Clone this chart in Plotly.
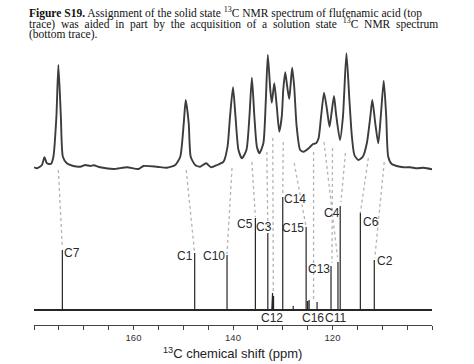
import plotly.graph_objects as go

# ---------------- data ----------------
# solid-state 13C CP/MAS trace (top): chemical shift (ppm) and relative intensity
solid_ppm = [180.0, 179.4, 178.4, 177.9, 177.4, 176.6, 176.1, 175.5, 175.1, 174.6, 174.2, 173.4,
             172.1, 170.7, 169.7, 168.7, 168.0, 166.7, 164.0, 161.3, 159.0, 158.0, 155.3, 153.3,
             151.6, 150.6, 149.9, 149.5, 148.9, 148.5, 147.6, 146.6, 145.4, 144.4, 143.2, 141.9,
             141.1, 140.6, 140.0, 139.5, 138.9, 138.2, 137.3, 136.7, 136.2, 135.7, 135.2, 134.7,
             133.9, 133.4, 133.0, 132.5, 132.2, 131.7, 131.2, 130.7, 130.2, 129.9, 129.5, 129.1,
             128.7, 128.4, 128.1, 127.7, 127.2, 126.5, 125.8, 124.8, 123.9, 123.3, 122.8, 122.3,
             121.7, 121.1, 120.6, 120.2, 119.7, 119.3, 118.5, 117.9, 117.2, 116.6, 116.1, 115.6,
             114.8, 113.9, 113.1, 112.4, 112.0, 111.4, 110.8, 110.3, 109.7, 109.2, 108.8, 108.1,
             107.1, 105.7, 104.4, 103.0, 101.7, 99.9]
solid_int = [0.7, -0.3, 3, 10.7, 4.7, 4, 11.3, 51.3, 103, 51.3, 11.3, 4.7,
             2, 1.3, 3, 2, 2.7, 0.7, -1, 0.7, -1, 2, 1.3, 0.3,
             3, 11.3, 44.7, 68, 44.7, 11.3, 3, 1.3, 4.7, 0.7, 3, 6.3,
             21.3, 51.3, 80.7, 51.3, 18, 9.7, 18, 51.3, 90.3, 51.3, 21.3, 14.7,
             24.7, 68, 113, 78, 65.3, 84.7, 61.3, 36.3, 51.3, 78, 95.7, 81.3,
             69, 84.7, 100.3, 81.3, 41.3, 18, 16.3, 19.7, 24, 24.7, 29.7, 51.3,
             75.3, 58, 41.3, 54.7, 72, 54.7, 28, 51.3, 114.7, 68, 31.3, 13,
             8, 11.3, 24.7, 51.3, 68, 44.7, 24.7, 51.3, 87.3, 51.3, 11.3, 4,
             2, 0.7, 0.7, -0.3, 0.3, -1.3]

# solution-state 13C trace (bottom): line positions (ppm) and heights
solution_ppm = [174.3, 147.7, 141.2, 135.5, 133.0, 132.2, 132.05, 131.85, 130.0, 127.9,
                125.3, 125.0, 124.7, 123.1, 120.3, 118.9, 118.45, 114.4, 111.6]
solution_h = [60, 57, 55, 92, 77, 12, 17, 14, 113, 4,
              83, 9, 10, 8, 44, 48, 104, 97, 50]

# assignments: label, solid-state shift, solution-state shift
assign_label = ["C7", "C1", "C10", "C5", "C3", "C12", "C14", "C15", "C16", "C11", "C13", "C4", "C6", "C2"]
assign_solid = [175.1, 149.4, 140.2, 136.2, 133.2, 132.0, 129.9, 127.7, 123.8, 121.7, 120.0, 117.4, 112.8, 109.6]
assign_soln = [174.3, 147.7, 141.2, 135.5, 133.0, 131.9, 130.0, 125.3, 123.8, 119.0, 120.1, 118.3, 114.4, 111.5]

tick_vals = [160, 140, 120]
tick_text = ["160", "140", "120"]

# ---------------- layout helpers (positions / styles) ----------------
W, H = 474, 364
ML, MR, MT, MB = 34, 42, 45, 39
TOP_BASE = 157      # y of the solid-state baseline
BOT_BASE = 15       # y of the solution-state baseline

# dotted connector vertical extents (y units)
link_y0 = [155, 155, 157, 163, 173, 187, 183, 162, 173, 183, 177, 172, 167, 163]
link_y1 = [77, 71, 71, 108, 94, 32, 130, 98, 25, 68, 62, 123, 112, 67]

# label placement (ppm, y)
label_pos = {
    "C7": (172.3, 71.7), "C1": (149.6, 69.3), "C10": (143.8, 69.3),
    "C5": (137.55, 101), "C3": (133.7, 98.3), "C14": (127.5, 126),
    "C15": (127.85, 97.3), "C4": (120.1, 112.3), "C6": (112.3, 103.3),
    "C13": (122.7, 56), "C2": (109.4, 64.3), "C12": (132.1, 6.7),
    "C16": (124.0, 6.7), "C11": (119.4, 6.7),
}

def py2paper(py):
    return (H - MB - py) / (H - MT - MB)

def px2paper(px):
    return (px - ML) / (W - ML - MR)

fig = go.Figure()

# dotted connectors
for s, l, a, b in zip(assign_solid, assign_soln, link_y0, link_y1):
    fig.add_trace(go.Scatter(x=[s, l], y=[a, b], mode="lines",
                             line=dict(color="#b4b4b4", width=1.3, dash="dot"),
                             hoverinfo="skip", showlegend=False))

# top trace
fig.add_trace(go.Scatter(x=solid_ppm, y=[TOP_BASE + v for v in solid_int], mode="lines",
                         line=dict(color="#3c3c3c", width=1.9, shape="spline", smoothing=0.6),
                         showlegend=False))

# bottom trace (stick spectrum)
order = sorted(range(len(solution_ppm)), key=lambda i: -solution_ppm[i])
bx, by = [180.0], [BOT_BASE]
for i in order:
    p, h = solution_ppm[i], solution_h[i]
    bx += [p, p, p]
    by += [BOT_BASE, BOT_BASE + h, BOT_BASE]
bx.append(100.0)
by.append(BOT_BASE)
fig.add_trace(go.Scatter(x=bx, y=by, mode="lines",
                         line=dict(color="#262626", width=1.2),
                         showlegend=False))
# thicker baseline of the solution trace
fig.add_trace(go.Scatter(x=[180.0, 100.0], y=[BOT_BASE, BOT_BASE], mode="lines",
                         line=dict(color="#262626", width=2),
                         showlegend=False, hoverinfo="skip"))

annotations = []
for name, (x, y) in label_pos.items():
    annotations.append(dict(x=x, y=y, xref="x", yref="y", text=name, showarrow=False,
                            font=dict(family="Liberation Sans, Arial", size=12, color="#2a2a2a"),
                            xanchor="center", yanchor="middle"))

serif = dict(family="Liberation Serif, Times New Roman", size=11.5, color="#111")
cap_lines = [
    "<b>Figure S19.</b> Assignment of the solid state <sup>13</sup>C NMR spectrum of flufenamic acid (top",
    "trace)\u00a0 was\u00a0 aided\u00a0 in\u00a0 part\u00a0 by\u00a0 the\u00a0 acquisition\u00a0 of\u00a0 a\u00a0 solution\u00a0 state\u00a0 <sup>13</sup>C\u00a0 NMR\u00a0 spectrum",
    "(bottom trace).",
]
for k, t in enumerate(cap_lines):
    annotations.append(dict(x=px2paper(26.5), y=py2paper(12.3 + 11 * k), xref="paper", yref="paper",
                            text=t, showarrow=False, font=serif, xanchor="left", yanchor="middle"))

annotations.append(dict(x=px2paper(232.5), y=py2paper(352.5), xref="paper", yref="paper",
                        text="<sup>13</sup>C chemical shift (ppm)", showarrow=False,
                        font=dict(family="Liberation Sans, Arial", size=13, color="#222"),
                        xanchor="center", yanchor="middle"))

fig.update_layout(
    width=W, height=H, margin=dict(l=ML, r=MR, t=MT, b=MB),
    paper_bgcolor="white", plot_bgcolor="white",
    annotations=annotations,
    xaxis=dict(range=[180, 100], showgrid=False, zeroline=False, showline=True,
               linecolor="#444", linewidth=1, ticks="outside", ticklen=4, tickcolor="#444",
               tickvals=tick_vals, ticktext=tick_text,
               minor=dict(tick0=100, dtick=5, ticks="outside", ticklen=4, tickcolor="#444"),
               tickfont=dict(family="Liberation Sans, Arial", size=9.5, color="#333")),
    yaxis=dict(range=[0, H - MT - MB], visible=False, showgrid=False, zeroline=False),
)

fig.write_html("out.html", config={"displayModeBar": False},
               post_script="document.body.style.margin='0';")
